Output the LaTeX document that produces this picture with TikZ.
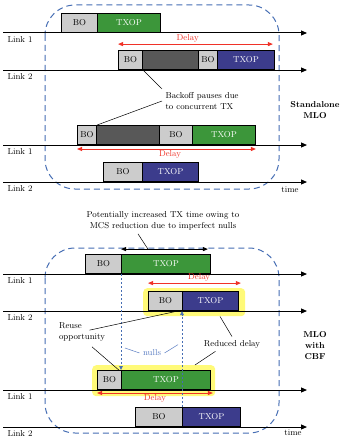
\documentclass[tikz,border=0pt]{standalone}
\usepackage{amsmath,amssymb}
\usepackage{tikz}
\usetikzlibrary{positioning,arrows.meta,calc}
\usepackage{xcolor}
\definecolor{boGray}{RGB}{204,204,204}
\definecolor{busyGray}{RGB}{88,88,88}
\definecolor{txGreen}{RGB}{60,150,58}
\definecolor{txBlue}{RGB}{60,60,140}
\definecolor{delayRed}{RGB}{240,50,40}
\definecolor{mloBlue}{RGB}{70,110,180}
\definecolor{nullBlue}{RGB}{90,125,195}
\definecolor{hiYellow}{RGB}{255,250,120}

\begin{document}
\begin{tikzpicture}[x=1pt,y=-1pt,>={Triangle[length=6pt,width=5pt]},
  every node/.style={font=\fontsize{8.6}{11}\selectfont},
  slot/.style={draw=black,line width=0.9pt,minimum height=19pt,inner sep=0pt,anchor=south west},
  bo/.style={slot,fill=boGray},
  busy/.style={slot,fill=busyGray},
  txg/.style={slot,fill=txGreen,text=white},
  txb/.style={slot,fill=txBlue,text=white},
  link/.style={->,line width=1pt},
  delay/.style={<->,>={Triangle[length=5pt,width=4pt]},delayRed,line width=0.9pt},
  mlo/.style={mloBlue,line width=1pt,dash pattern=on 6pt off 4pt,rounded corners=30pt},
  hilite/.style={fill=hiYellow,rounded corners=4pt,anchor=north west,inner sep=0pt},
  note/.style={line width=0.5pt},
  nullline/.style={->,>={Triangle[length=4pt,width=3.5pt]},mloBlue,line width=0.9pt,dash pattern=on 2pt off 2pt},
  tag/.style={font=\fontsize{8.6}{11}\selectfont\bfseries,align=center}]
\useasboundingbox[fill=white] (0,0) rectangle (349,444);

% MLO frames
\draw[mlo] (45,5) rectangle (279,189);
\draw[mlo] (45,248) rectangle (279,433);

% highlights behind the CBF frames
\node[hilite,minimum width=102pt,minimum height=28pt] (hl1) at (143,288) {};
\node[hilite,minimum width=123pt,minimum height=31pt] (hl2) at (92,365) {};

% time lines
\foreach \y/\k/\lab in {33/1/Link 1,70/2/Link 2,145/3/Link 1,182/4/Link 2,274/5/Link 1,311/6/Link 2,390/7/Link 1,427/8/Link 2}{
  \coordinate (ls\k) at (3,\y);
  \coordinate (le\k) at (307,\y);
  \draw[link] (ls\k) -- (le\k);
  \node[anchor=west] (lk\k) at (4,\y+7) {\lab};
}
\node (t1) at (290,190) {time};
\node (t2) at (293,433) {time};

% standalone MLO
\node[bo,minimum width=36pt] (a1bo) at (61,33) {BO};
\node[txg,minimum width=63pt] (a1tx) at (97,33) {TXOP};
\node[bo,minimum width=24pt] (a2bo) at (118,70) {BO};
\node[busy,minimum width=56pt] (a2busy) at (142,70) {};
\node[bo,minimum width=19pt] (a2bo2) at (198,70) {BO};
\node[txb,minimum width=57pt] (a2tx) at (217,70) {TXOP};
\node[bo,minimum width=19pt] (b1bo) at (77,145) {BO};
\node[busy,minimum width=63pt] (b1busy) at (96,145) {};
\node[bo,minimum width=33pt] (b1bo2) at (159,145) {BO};
\node[txg,minimum width=63pt] (b1tx) at (192,145) {TXOP};
\node[bo,minimum width=39pt] (b2bo) at (103,182) {BO};
\node[txb,minimum width=56pt] (b2tx) at (142,182) {TXOP};

\draw[delay] ([yshift=6pt]a2bo.north west) -- ([yshift=6pt,xshift=-2pt]a2tx.north east)
  node[pos=0.45,above,inner sep=1pt,delayRed] {Delay};
\draw[delay] ([yshift=-4pt]b1bo.south west) -- ([yshift=-4pt]b1tx.south east)
  node[pos=0.52,below,inner sep=1pt,delayRed] {Delay};

\node[align=left,anchor=west] (bp) at (162,101) {Backoff pauses due\\to concurrent TX};
\draw[note] (a2bo.south east) -- (bp.north west);
\draw[note] (bp.west) -- (b1bo.north east);
\node[tag] (sa) at (315,110) {Standalone\\MLO};

% MLO with CBF
\node[bo,minimum width=36pt] (c1bo) at (85,274) {BO};
\node[txg,minimum width=89pt] (c1tx) at (121,274) {TXOP};
\node[bo,minimum width=34pt] (c2bo) at (148,311) {BO};
\node[txb,minimum width=56pt] (c2tx) at (182,311) {TXOP};
\node[bo,minimum width=24pt] (d1bo) at (97,390) {BO};
\node[txg,minimum width=89pt] (d1tx) at (121,390) {TXOP};
\node[bo,minimum width=47pt] (d2bo) at (135,427) {BO};
\node[txb,minimum width=58pt] (d2tx) at (182,427) {TXOP};

\draw[<->,>={Triangle[length=5pt,width=4pt]},line width=0.9pt] ([yshift=5pt]c1tx.north west)
  -- coordinate[pos=0.31] (incm) ([yshift=5pt,xshift=-3pt]c1tx.north east);
\node[align=center] (pot) at (163,221) {Potentially increased TX time owing to\\MCS reduction due to imperfect nulls};
\draw[note] ($(pot.south)+(-25,0)$) -- (incm);

\draw[delay] ([yshift=8pt]c2bo.north west) -- ([yshift=8pt,xshift=2pt]c2tx.north east)
  node[pos=0.55,above,inner sep=1pt,delayRed] {Delay};
\draw[delay] ([yshift=-3pt]d1bo.south west) -- ([yshift=-3pt,xshift=2pt]d1tx.south east)
  node[midway,below,inner sep=1pt,delayRed] {Delay};

\draw[nullline] (c1tx.south west) -- coordinate[pos=0.77] (nl1) (d1tx.north west);
\draw[nullline] (d2tx.north west) -- coordinate[pos=0.65] (nl2) (c2tx.south west);
\node[text=nullBlue] (nulls) at (152,353) {nulls};
\draw[note,nullBlue] ([xshift=4pt]nl1) -- (nulls.west);
\draw[note,nullBlue] ([xshift=-4pt]nl2) -- (nulls.east);

\node[align=left] (reuse) at (82,332) {Reuse\\opportunity};
\draw[note] ($(reuse.north west)+(34,11)$) -- ([xshift=-5pt]c2bo.south east);
\draw[note] ($(reuse.south)+(10,2)$) -- ([xshift=-3pt]d1bo.north east);
\node (rd) at (232,344) {Reduced delay};
\draw[note] ($(hl1.south west)+(77,0)$) -- (rd.north);
\draw[note] ($(rd.south west)+(15,0)$) -- ($(hl2.north west)+(103,0)$);
\node[tag] (cbf) at (315,346) {MLO\\with\\CBF};
\end{tikzpicture}
\end{document}
